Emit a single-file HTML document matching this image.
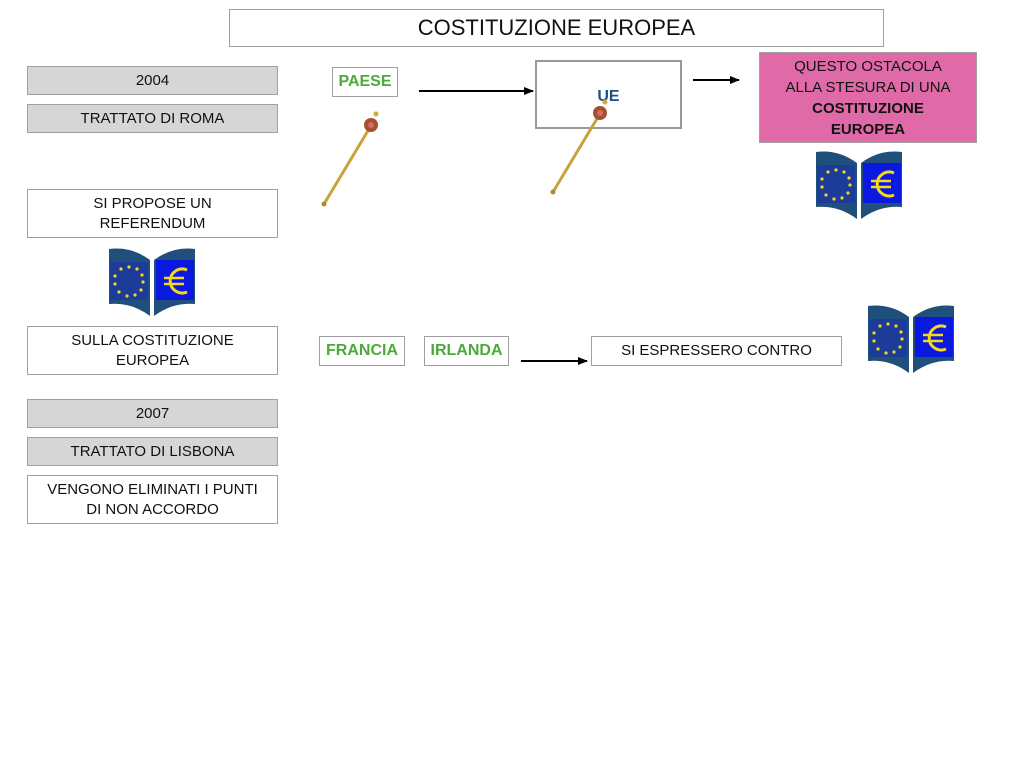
<!DOCTYPE html>
<html><head><meta charset="utf-8"><style>
body{margin:0;width:1024px;height:768px;background:#fff;position:relative;overflow:hidden;font-family:"Liberation Sans",sans-serif;}
.b{position:absolute;box-sizing:border-box;border:1px solid #a0a0a0;display:flex;align-items:center;justify-content:center;text-align:center;font-size:15px;color:#111;line-height:20px;}
.g{background:#d6d6d6;}
.gr{color:#4caa3a;font-weight:bold;font-size:16px;}
svg{position:absolute;left:0;top:0;}
</style></head><body>
<div class="b" style="left:229px;top:9px;width:655px;height:38px;font-size:22px;"><div>COSTITUZIONE EUROPEA</div></div>
<div class="b g" style="left:27px;top:66px;width:251px;height:29px;"><div>2004</div></div>
<div class="b g" style="left:27px;top:104px;width:251px;height:29px;"><div>TRATTATO DI ROMA</div></div>
<div class="b" style="left:27px;top:189px;width:251px;height:49px;"><div>SI PROPOSE UN<br>REFERENDUM</div></div>
<div class="b" style="left:27px;top:326px;width:251px;height:49px;"><div>SULLA COSTITUZIONE<br>EUROPEA</div></div>
<div class="b g" style="left:27px;top:399px;width:251px;height:29px;"><div>2007</div></div>
<div class="b g" style="left:27px;top:437px;width:251px;height:29px;"><div>TRATTATO DI LISBONA</div></div>
<div class="b" style="left:27px;top:475px;width:251px;height:49px;"><div>VENGONO ELIMINATI I PUNTI<br>DI NON ACCORDO</div></div>
<div class="b gr" style="left:332px;top:67px;width:66px;height:30px;"><div>PAESE</div></div>
<div class="b" style="left:535px;top:60px;width:147px;height:69px;border:2px solid #999;color:#1f4e8c;font-weight:bold;font-size:16px;padding-top:4px;"><div>UE</div></div>
<div class="b" style="left:759px;top:52px;width:218px;height:91px;background:#e06aa8;line-height:21px;"><div>QUESTO OSTACOLA<br>ALLA STESURA DI UNA<br><b>COSTITUZIONE<br>EUROPEA</b></div></div>
<div class="b gr" style="left:319px;top:336px;width:86px;height:30px;"><div>FRANCIA</div></div>
<div class="b gr" style="left:424px;top:336px;width:85px;height:30px;"><div>IRLANDA</div></div>
<div class="b" style="left:591px;top:336px;width:251px;height:30px;"><div>SI ESPRESSERO CONTRO</div></div>
<svg width="1024" height="768">
<defs>
<marker id="a" markerWidth="10" markerHeight="8" refX="9" refY="4" orient="auto" markerUnits="userSpaceOnUse"><path d="M0,0L10,4L0,8z" fill="#000"/></marker>
<g id="book">
<path d="M0,3 Q22,0 41,14 L41,70 Q22,56 0,58Z" fill="#1f4f7a"/>
<path d="M45,14 Q64,0 86,3 L86,58 Q64,56 45,70Z" fill="#1f4f7a"/>
<rect x="1" y="16" width="38" height="38" fill="#1d3c9a"/>
<g fill="#f3d81c"><circle cx="20" cy="21" r="1.6"/><circle cx="28" cy="23" r="1.6"/><circle cx="33" cy="29" r="1.6"/><circle cx="34" cy="36" r="1.6"/><circle cx="32" cy="44" r="1.6"/><circle cx="26" cy="49" r="1.6"/><circle cx="18" cy="50" r="1.6"/><circle cx="10" cy="46" r="1.6"/><circle cx="6" cy="38" r="1.6"/><circle cx="6" cy="30" r="1.6"/><circle cx="12" cy="23" r="1.6"/></g>
<rect x="47" y="14" width="38" height="40" fill="#0a18e0"/>
<path d="M78,24 A12,12 0 1 0 78,46" fill="none" stroke="#f3d81c" stroke-width="3"/>
<path d="M55,32H75M55,38H75" stroke="#f3d81c" stroke-width="2.5"/>
</g>
<g id="sc">
<line x1="0" y1="82" x2="48" y2="2" stroke="#c9a23a" stroke-width="3"/>
<circle cx="0" cy="82" r="2.5" fill="#b08a2a"/>
<circle cx="47" cy="3" r="7" fill="#a4502f"/>
<circle cx="47" cy="3" r="3" fill="#d66a6a"/>
<circle cx="52" cy="-8" r="2.5" fill="#d4a838"/>
</g>
</defs>
<line x1="419" y1="91" x2="533" y2="91" stroke="#000" stroke-width="2" marker-end="url(#a)"/>
<line x1="693" y1="80" x2="739" y2="80" stroke="#000" stroke-width="2" marker-end="url(#a)"/>
<line x1="521" y1="361" x2="587" y2="361" stroke="#000" stroke-width="2" marker-end="url(#a)"/>
<use href="#book" x="816" y="149"/>
<use href="#book" x="109" y="246"/>
<use href="#book" x="868" y="303"/>
<use href="#sc" x="324" y="122"/>
<use href="#sc" x="553" y="110"/>
</svg>
</body></html>
